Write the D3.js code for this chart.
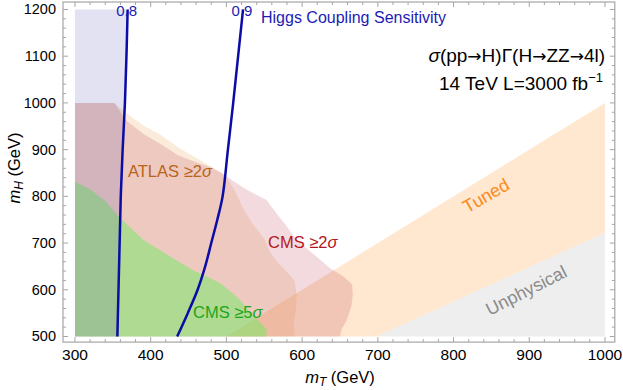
<!doctype html>
<html>
<head>
<meta charset="utf-8">
<script src="https://cdnjs.cloudflare.com/ajax/libs/d3/7.8.5/d3.min.js"></script>
<style>
  body { margin: 0; background: #fff; }
  svg text { font-family: "Liberation Sans", Arial, sans-serif; }
  .arr { font-family: "DejaVu Sans", sans-serif; }
</style>
</head>
<body>
<svg id="chart" width="623" height="390"></svg>
<script>
// tick values
var xTicks = [300, 400, 500, 600, 700, 800, 900, 1000];
var yTicks = [500, 600, 700, 800, 900, 1000, 1100, 1200];

// coupling sensitivity contours [mT, mH]
var line08 = [[356,500],[357.5,600],[359,700],[360.5,800],[363,900],[366,1000],[368,1100],[369.6,1200]];
var line09 = [[435,500],[449,550],[462,600],[472,650],[480,700],[488,750],[495,800],[502,900],[509,1000],[515.5,1100],[522,1200]];

// exclusion region outlines (outer edge, from top left going down to mH=500)
var atlasEdge = [[352,1000],[368,978],[392,950],[414,931],[436,905],[458,884],[480,864],[498,845],[510,815],[522,775],[535,740],[550,710],[558,680],[568,658],[580,638],[590,620],[593,590],[592,560],[589,530],[590,500]];
var cms2Edge = [[352,1000],[368,962],[392,932],[414,911],[436,888],[458,874],[480,862],[496,848],[510,832],[527,814],[553,792],[566,764],[580,735],[590,712],[605,690],[619,671],[637,646],[655,628],[666,612],[667,590],[665,564],[659,535],[652,515],[650,500]];
var cms5Edge = [[300,831],[320,815],[340,790],[360,753],[375,730],[390,707],[412,685],[435,662],[456,642],[475,628],[492,614],[510,590],[518,578],[531,552],[545,530],[553,515],[553,500]];

// tuned band and unphysical boundary
var tunedEdge = [[500,500],[1000,1000]];
var physEdge = [[698,500],[1000,722]];

var svg = d3.select("#chart");
var x = d3.scaleLinear().domain([284.2, 1013]).range([63, 614.8]);
var y = d3.scaleLinear().domain([488, 1216]).range([342.1, 2]);
var line = d3.line().x(d => x(d[0])).y(d => y(d[1]));
var curve = d3.line().x(d => x(d[0])).y(d => y(d[1])).curve(d3.curveCatmullRom);

function region(pts, fill) {
  svg.append("path").attr("d", line(pts) + "Z").attr("fill", fill).attr("stroke", "none");
}

// tuned / unphysical
region([tunedEdge[0], tunedEdge[1], [1000, physEdge[1][1]], physEdge[0]], "rgba(255,150,50,0.23)");
region([physEdge[0], physEdge[1], [1000,500]], "rgba(0,0,0,0.065)");

region([[300,500],[300,1000]].concat(atlasEdge), "rgba(238,165,85,0.22)");
region([[300,500],[300,1000]].concat(cms2Edge), "rgba(185,50,70,0.18)");
region([[300,500]].concat(cms5Edge), "rgba(110,238,100,0.5)");

// higgs coupling < 0.8
region([[300,500]].concat(line08, [[300,1200]]), "rgba(60,60,175,0.15)");

// contours
[line08, line09].forEach(function(l) {
  svg.append("path").attr("d", curve(l)).attr("fill", "none")
    .attr("stroke", "#0b0ba6").attr("stroke-width", 2.5);
});

// frame
var frame = svg.append("g").attr("stroke", "#a6a6a6").attr("fill", "none");
frame.append("rect").attr("x", x(284.2)).attr("y", y(1216)).attr("width", x(1013) - x(284.2)).attr("height", y(488) - y(1216)).attr("stroke-width", 1.2);

var xMinor = d3.range(300, 1001, 20);
var yMinor = d3.range(500, 1201, 20);
xMinor.forEach(function(v) {
  var len = v % 100 === 0 ? 5 : 3;
  frame.append("line").attr("x1", x(v)).attr("x2", x(v)).attr("y1", y(488)).attr("y2", y(488) - len);
  frame.append("line").attr("x1", x(v)).attr("x2", x(v)).attr("y1", y(1216)).attr("y2", y(1216) + len);
});
yMinor.forEach(function(v) {
  var len = v % 100 === 0 ? 5 : 3;
  frame.append("line").attr("y1", y(v)).attr("y2", y(v)).attr("x1", x(284.2)).attr("x2", x(284.2) + len);
  frame.append("line").attr("y1", y(v)).attr("y2", y(v)).attr("x1", x(1013)).attr("x2", x(1013) - len);
});

svg.selectAll("text.xt").data(xTicks).enter().append("text")
  .attr("class", "xt").attr("x", d => x(d)).attr("y", 360)
  .attr("text-anchor", "middle").attr("font-size", 15.5).text(d => d);
svg.selectAll("text.yt").data(yTicks).enter().append("text")
  .attr("class", "yt").attr("x", 56).attr("y", d => y(d) + 5)
  .attr("text-anchor", "end").attr("font-size", 14.5).text(d => d);

// axis titles
var xl = svg.append("text").attr("x", 340).attr("y", 383).attr("text-anchor", "middle").attr("font-size", 16.5);
xl.append("tspan").attr("font-style", "italic").text("m");
xl.append("tspan").attr("font-style", "italic").attr("font-size", 12).attr("dy", 3).text("T");
xl.append("tspan").attr("dy", -3).text(" (GeV)");

var yl = svg.append("text").attr("transform", "translate(20,168) rotate(-90)").attr("text-anchor", "middle").attr("font-size", 16.5);
yl.append("tspan").attr("font-style", "italic").text("m");
yl.append("tspan").attr("font-style", "italic").attr("font-size", 12).attr("dy", 3).text("H");
yl.append("tspan").attr("dy", -3).text(" (GeV)");

// contour labels
svg.append("text").attr("x", x(line08[line08.length-1][0]) - 1).attr("y", 16).attr("text-anchor", "middle")
  .attr("font-size", 15).attr("fill", "#1c1cb4").text("0.8");
svg.append("text").attr("x", x(line09[line09.length-1][0]) - 1).attr("y", 16).attr("text-anchor", "middle")
  .attr("font-size", 15).attr("fill", "#1c1cb4").text("0.9");
svg.append("text").attr("x", 261).attr("y", 23).attr("font-size", 16).attr("fill", "#1c1cb4").text("Higgs Coupling Sensitivity");

// process labels
var t1 = svg.append("text").attr("x", 605).attr("y", 62).attr("text-anchor", "end").attr("font-size", 19);
t1.append("tspan").attr("font-style", "italic").text("σ");
["(pp", "→", "H)Γ(H", "→", "ZZ", "→", "4l)"].forEach(function(s) {
  var ts = t1.append("tspan").text(s);
  if (s === "→") ts.attr("class", "arr").attr("font-size", 17);
});
var t2 = svg.append("text").attr("x", 603).attr("y", 90).attr("text-anchor", "end").attr("font-size", 19);
t2.append("tspan").text("14 TeV L=3000 fb");
t2.append("tspan").attr("font-size", 13).attr("dy", -8).text("−1");

// region labels
function label(px, py, txt, color, rot, size) {
  var t = svg.append("text").attr("font-size", size).attr("fill", color)
    .attr("transform", "translate(" + px + "," + py + ")" + (rot ? " rotate(" + rot + ")" : ""))
    .attr("text-anchor", rot ? "middle" : "start");
  t.append("tspan").text(txt);
  if (txt.indexOf("≥") >= 0) {
    t.append("tspan").attr("font-style", "italic").text("σ");
  }
}
label(128, 177, "ATLAS ≥2", "#b8641a", 0, 16.5);
label(268, 248, "CMS ≥2", "#b5161c", 0, 16.5);
label(193, 318, "CMS ≥5", "#1ca51c", 0, 16.5);
label(489, 201, "Tuned", "#fb8a1c", -30, 18);
label(529, 296, "Unphysical", "#8a8a8a", -27, 18);
</script>
</body>
</html>
